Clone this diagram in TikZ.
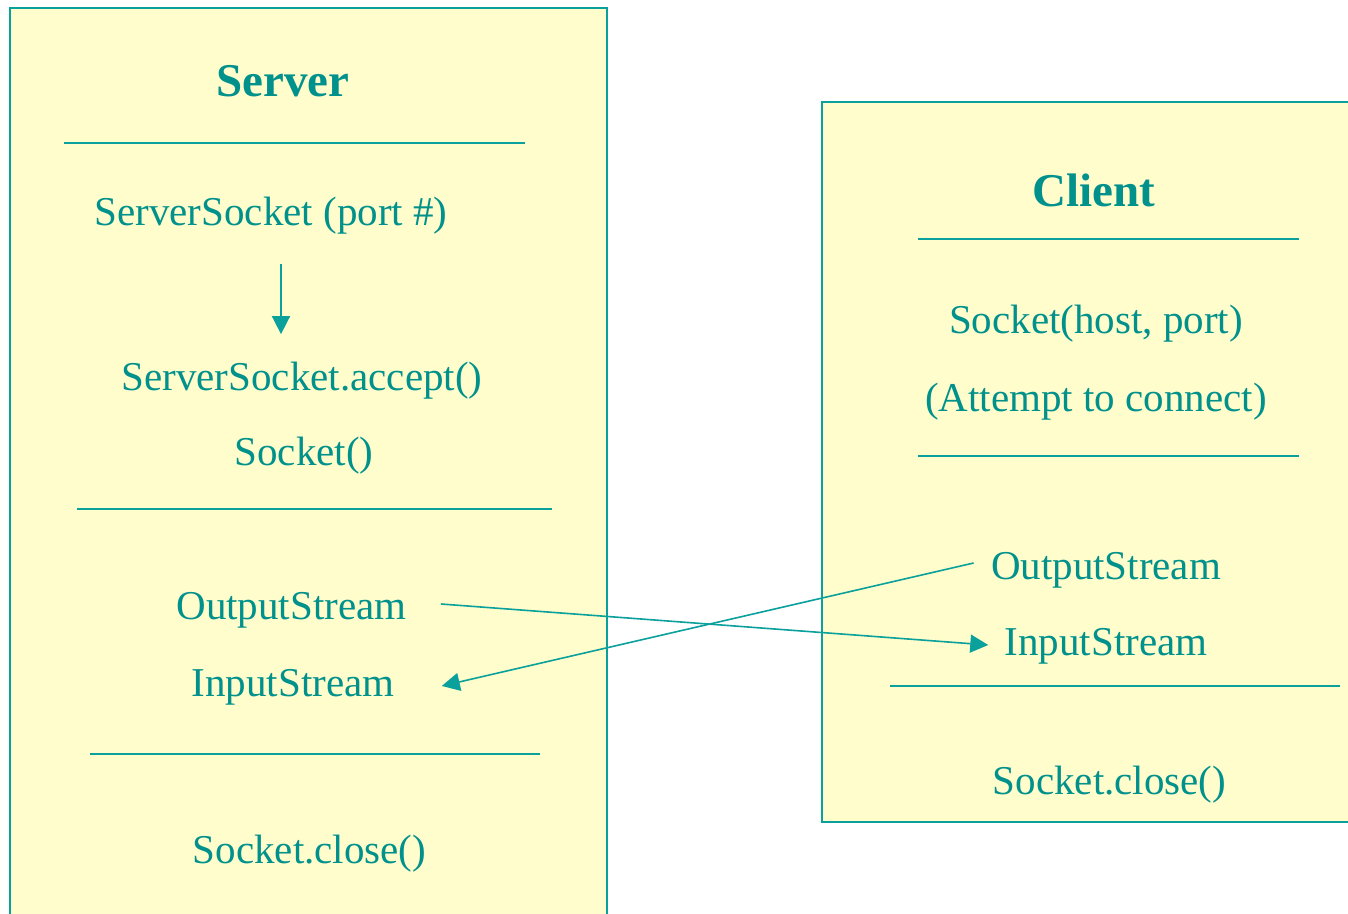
\documentclass[tikz,border=0pt]{standalone}
\usepackage{fontspec}
\setmainfont{Liberation Serif}
\usetikzlibrary{arrows.meta}
\definecolor{boxfill}{RGB}{255,253,204}
\definecolor{tealline}{RGB}{10,160,155}
\definecolor{tealtext}{RGB}{0,145,140}
\tikzset{
  boxstyle/.style={draw=tealline, fill=boxfill, line width=1pt},
  sepline/.style={draw=tealline, line width=1pt},
  lbl/.style={text=tealtext, font=\fontsize{20.5}{24}\selectfont, inner sep=0pt, anchor=base},
  ttl/.style={text=tealtext, font=\fontsize{23.5}{28}\selectfont\bfseries, inner sep=0pt, anchor=base},
  arr/.style={draw=tealline, line width=0.8pt, -{Triangle[length=9pt,width=9pt]}}
}
\begin{document}
\begin{tikzpicture}[x=0.5pt,y=-0.5pt]
\useasboundingbox (0,0) rectangle (1348,914);
\clip (0,0) rectangle (1348,914);
\fill[white] (0,0) rectangle (1348,914);
% boxes
\path[boxstyle] (10,8) rectangle (607,960);
\path[boxstyle] (822,102) rectangle (1380,822);
% separators server
\path[sepline] (64,143) -- (525,143);
\path[sepline] (77,509) -- (552,509);
\path[sepline] (90,754) -- (540,754);
% separators client
\path[sepline] (918,239) -- (1299,239);
\path[sepline] (918,456) -- (1299,456);
\path[sepline] (890,686) -- (1340,686);
% server texts
\node[ttl] (st) at (283,97) {Server};
\node[lbl] (ss) at (271,226) {ServerSocket (port \#)};
\node[lbl] (acc) at (302,390) {ServerSocket.accept()};
\node[lbl] (sk) at (304,465) {Socket()};
\node[lbl] (so) at (291.5,619) {OutputStream};
\node[lbl] (si) at (293,696) {InputStream};
\node[lbl] (sc) at (309.5,863) {Socket.close()};
% client texts
\node[ttl] (ct) at (1094,207) {Client};
\node[lbl] (ch) at (1096,334) {Socket(host, port)};
\node[lbl] (ca) at (1096,411) {(Attempt to connect)};
\node[lbl] (co) at (1106,579) {OutputStream};
\node[lbl] (ci) at (1106,655) {InputStream};
\node[lbl] (cc) at (1109.5,794) {Socket.close()};
% arrows
\draw[arr] ([xshift=5pt,yshift=-14.5pt]ss.south) -- ++(0,70);
\draw[arr] ([xshift=17pt,yshift=7.5pt]so.base east) -- ([xshift=-8pt,yshift=5pt]ci.base west);
\draw[arr] ([xshift=-8.5pt,yshift=8pt]co.base west) -- ([xshift=23.5pt,yshift=5pt]si.base east);
\end{tikzpicture}
\end{document}
